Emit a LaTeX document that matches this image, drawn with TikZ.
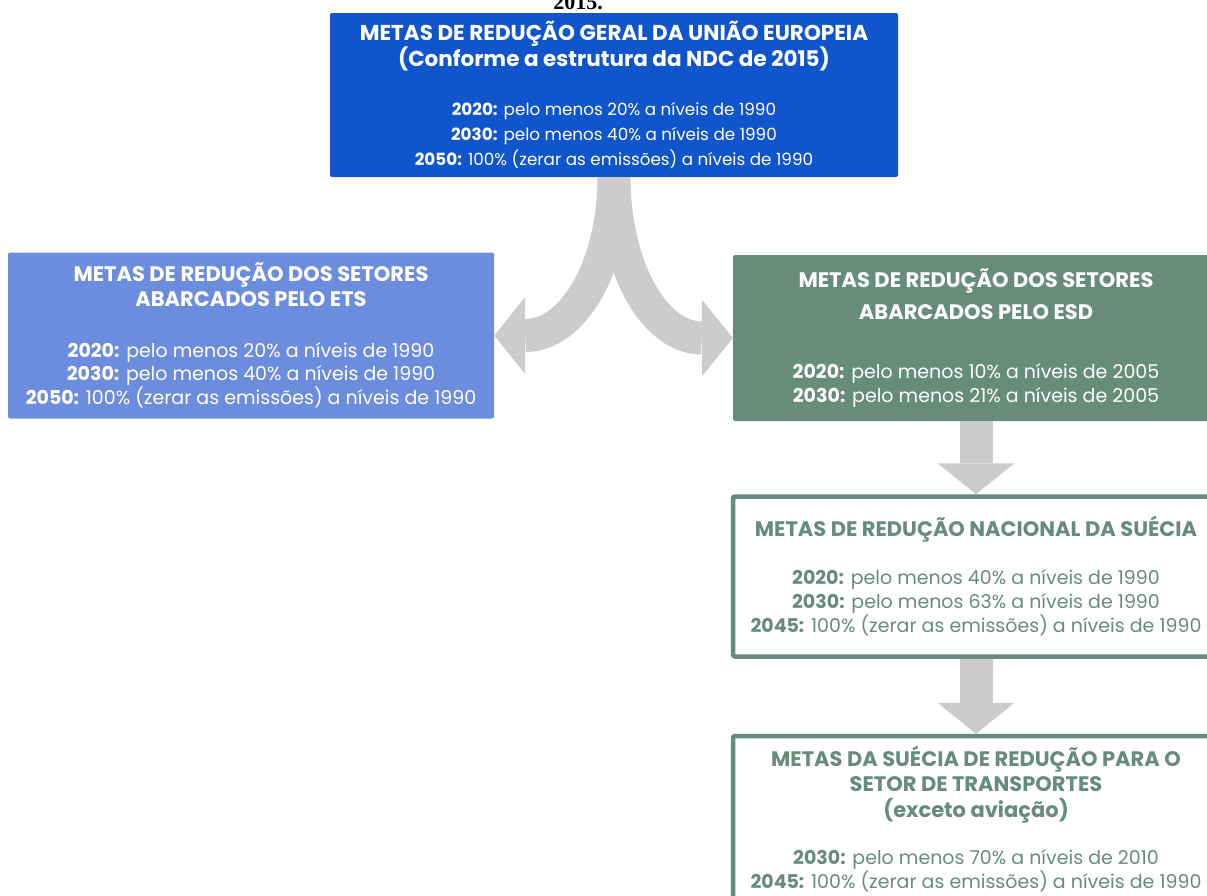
\documentclass[tikz,border=0pt]{standalone}
\usepackage{fontspec}
\setmainfont{Poppins}
\newfontfamily\capfont{Liberation Serif}
\usetikzlibrary{arrows.meta}
\definecolor{eublue}{RGB}{17,85,204}
\definecolor{etsblue}{RGB}{108,141,222}
\definecolor{esdgreen}{RGB}{103,140,124}
\definecolor{arrowgray}{RGB}{204,204,204}

\begin{document}
\begin{tikzpicture}[x=1pt,y=-1pt,
  goalbox/.style={rectangle,rounded corners=2pt,minimum width=486pt,minimum height=165pt,align=center,inner sep=0pt},
  filledbox/.style={goalbox,draw=none,text=white},
  openbox/.style={goalbox,draw=esdgreen,line width=4.5pt,fill=white,text=esdgreen},
  bigarrow/.style={arrowgray,line width=33pt,-{Triangle[length=31pt,width=77pt,line width=0pt]}},
  bodytext/.style={font=\fontsize{19}{24}\selectfont}]
\useasboundingbox (0,0) rectangle (1207,895);
\clip (0,0) rectangle (1207,895);

% caption of the figure, cut at the top
\node[font=\capfont\bfseries\fontsize{22}{24}\selectfont,anchor=base] (figcap) at (578,9) {2015.};

% boxes
\node[filledbox,fill=eublue,minimum width=568pt,minimum height=164pt,font=\fontsize{16.8}{25}\selectfont] (eu) at (614,95)
  {\bfseries\fontsize{21.5}{26}\selectfont METAS DE REDUÇÃO GERAL DA UNIÃO EUROPEIA\\
   \bfseries\fontsize{21.5}{26}\selectfont (Conforme a estrutura da NDC de 2015)\\[24pt]
   \textbf{2020:} pelo menos 20\% a níveis de 1990\\
   \textbf{2030:} pelo menos 40\% a níveis de 1990\\
   \textbf{2050:} 100\% (zerar as emissões) a níveis de 1990};

\node[filledbox,fill=etsblue,font=\fontsize{19}{23.5}\selectfont,minimum height=166pt] (ets) at (251,335.5)
  {\bfseries\fontsize{21}{25}\selectfont METAS DE REDUÇÃO DOS SETORES\\[1.5pt]
   \bfseries\fontsize{21}{25}\selectfont ABARCADOS PELO ETS\\[27pt]
   \textbf{2020:} pelo menos 20\% a níveis de 1990\\
   \textbf{2030:} pelo menos 40\% a níveis de 1990\\
   \textbf{2050:} 100\% (zerar as emissões) a níveis de 1990};

\node[filledbox,fill=esdgreen,bodytext,minimum height=166pt] (esd) at (976,338)
  {\bfseries\fontsize{21}{25}\selectfont METAS DE REDUÇÃO DOS SETORES\\[8pt]
   \bfseries\fontsize{21}{25}\selectfont ABARCADOS PELO ESD\\[35pt]
   \textbf{2020:} pelo menos 10\% a níveis de 2005\\
   \textbf{2030:} pelo menos 21\% a níveis de 2005};

\node[openbox,minimum height=160pt,bodytext] (swe) at (976,576.5)
  {\bfseries\fontsize{21}{25}\selectfont METAS DE REDUÇÃO NACIONAL DA SUÉCIA\\[24pt]
   \textbf{2020:} pelo menos 40\% a níveis de 1990\\
   \textbf{2030:} pelo menos 63\% a níveis de 1990\\
   \textbf{2045:} 100\% (zerar as emissões) a níveis de 1990};

\node[openbox,minimum height=167pt,bodytext] (transp) at (976,819.5)
  {\bfseries\fontsize{21}{25}\selectfont METAS DA SUÉCIA DE REDUÇÃO PARA O\\[1pt]
   \bfseries\fontsize{21}{25}\selectfont SETOR DE TRANSPORTES\\[1.5pt]
   \bfseries\fontsize{21}{25}\selectfont (exceto aviação)\\[23.5pt]
   \textbf{2030:} pelo menos 70\% a níveis de 2010\\
   \textbf{2045:} 100\% (zerar as emissões) a níveis de 1990};

% arrows
\draw[bigarrow] (eu.south) .. controls +(0,87) and +(49,0) .. ([xshift=31pt]ets.east) -- (ets.east);
\draw[bigarrow] (eu.south) .. controls +(0,87) and +(-49,0) .. ([xshift=-31pt]esd.west) -- (esd.west);
\draw[bigarrow] (esd.south) -- (swe.north);
\draw[bigarrow] (swe.south) -- (transp.north);

\end{tikzpicture}
\end{document}
